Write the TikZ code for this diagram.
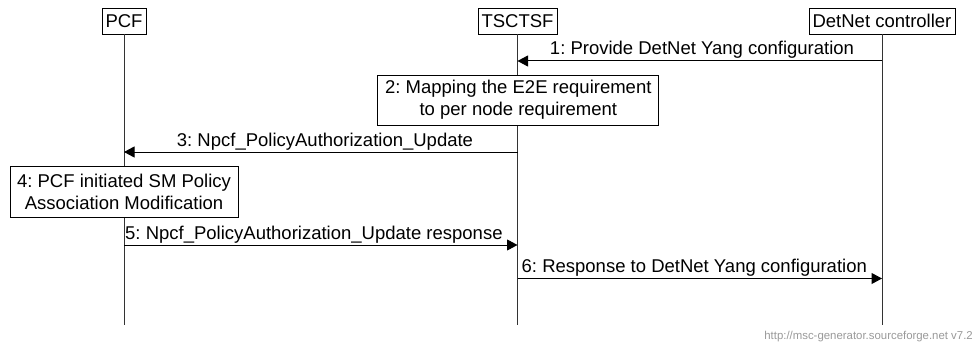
\documentclass[tikz,border=0pt]{standalone}
\usepackage{fontspec}
\setmainfont{Liberation Sans}
\usetikzlibrary{arrows.meta}
\frenchspacing
\begin{document}
\begin{tikzpicture}[x=1pt,y=-1pt,
  every node/.style={font=\fontsize{18.5}{22}\selectfont, inner sep=0pt},
  entity/.style={draw=black, line width=0.8pt, minimum height=26pt, inner xsep=3.5pt},
  lifeline/.style={draw=black!80, line width=1pt},
  msg/.style={draw=black, line width=1pt, -{Triangle[length=10.5pt,width=11pt]}},
  actbox/.style={draw=black, line width=0.8pt, fill=white, align=center},
  lbl/.style={anchor=base},
  lblw/.style={anchor=base west},
  footer/.style={anchor=base east, font=\fontsize{11.4}{13}\selectfont, text=black!40},
]
\useasboundingbox (0,0) rectangle (975,345);

% entities
\node[entity] (pcf) at (124,21) {PCF};
\node[entity] (tsc) at (517.5,21) {TSCTSF};
\node[entity] (det) at (882,21) {DetNet controller};

% lifelines
\coordinate (lend) at (0,325);
\draw[lifeline] (pcf.south) -- (pcf.south |- lend);
\draw[lifeline] (tsc.south) -- (tsc.south |- lend);
\draw[lifeline] (det.south) -- (det.south |- lend);

% message rows
\coordinate (m1) at (0,61);
\coordinate (m3) at (0,152);
\coordinate (m5) at (0,245);
\coordinate (m6) at (0,278.5);

% 1
\draw[msg] (det.south |- m1) -- (tsc.south |- m1);
\node[lbl] (l1) at (702,54.5) {1: Provide DetNet Yang configuration};

% 2
\node[actbox, minimum width=281pt, minimum height=50pt] (b2) at (518.3,100)
  {2: Mapping the E2E requirement\\to per node requirement};

% 3
\draw[msg] (tsc.south |- m3) -- (pcf.south |- m3);
\node[lbl] (l3) at (325,146.5) {3: Npcf\_PolicyAuthorization\_Update};

% 4
\node[actbox, minimum width=228pt, minimum height=51pt] (b4) at (124,191.5)
  {4: PCF initiated SM Policy\\Association Modification};

% 5
\draw[msg] (pcf.south |- m5) -- (tsc.south |- m5);
\node[lblw] (l5) at (125,239.5) {5: Npcf\_PolicyAuthorization\_Update response};

% 6
\draw[msg] (tsc.south |- m6) -- (det.south |- m6);
\node[lblw] (l6) at (521.5,272.5) {6: Response to DetNet Yang configuration};

% footer
\node[footer] (foot) at (973,339) {http://msc-generator.sourceforge.net v7.2};
\end{tikzpicture}
\end{document}
